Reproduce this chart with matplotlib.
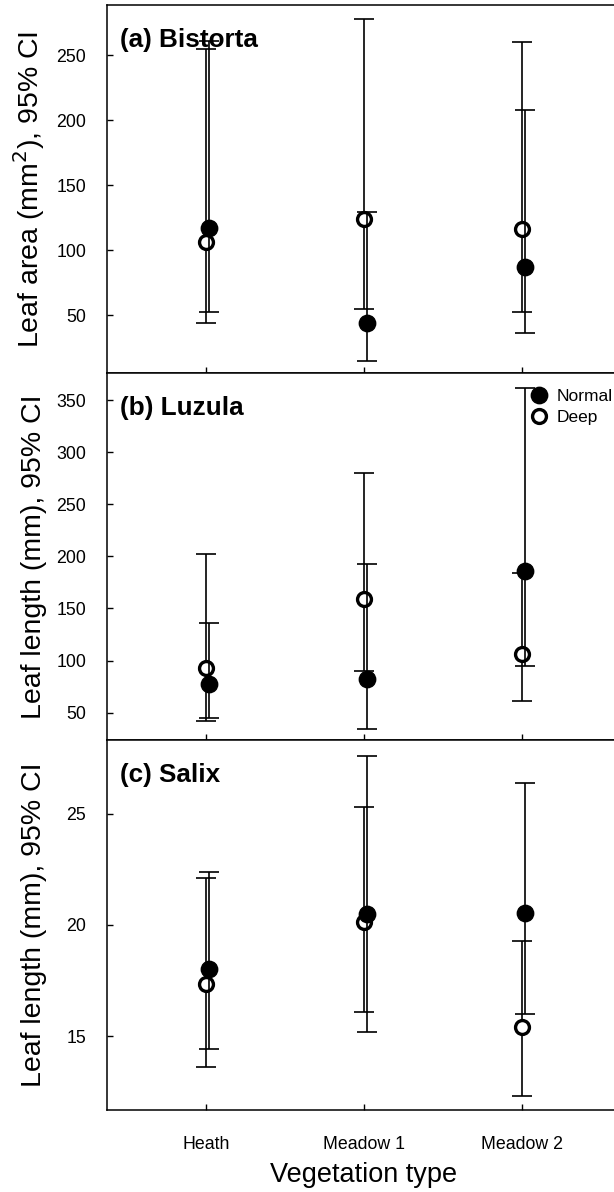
import matplotlib
matplotlib.use("Agg")
import matplotlib.pyplot as plt
from matplotlib.lines import Line2D
import numpy as np

plt.rcParams['font.family'] = ['Liberation Sans', 'DejaVu Sans']

categories = ["Heath", "Meadow 1", "Meadow 2"]

# Panel (a) Bistorta - leaf area (mm^2)
a_normal = [117, 44, 87]
a_normal_lo = [52, 15, 36]
a_normal_hi = [261, 129, 208]
a_deep = [106, 124, 116]
a_deep_lo = [44, 55, 52]
a_deep_hi = [255, 278, 260]

# Panel (b) Luzula - leaf length (mm)
b_normal = [78, 82, 186]
b_normal_lo = [45, 34, 95]
b_normal_hi = [136, 193, 362]
b_deep = [93, 159, 106]
b_deep_lo = [42, 90, 61]
b_deep_hi = [202, 280, 184]

# Panel (c) Salix - leaf length (mm)
c_normal = [18.0, 20.5, 20.55]
c_normal_lo = [14.4, 15.2, 16.0]
c_normal_hi = [22.4, 27.6, 26.4]
c_deep = [17.35, 20.15, 15.4]
c_deep_lo = [13.6, 16.1, 12.3]
c_deep_hi = [22.1, 25.3, 19.3]

panels = [
    ("(a) Bistorta", "Leaf area (mm$^2$), 95% CI", (a_normal, a_normal_lo, a_normal_hi), (a_deep, a_deep_lo, a_deep_hi), (5.4, 288.5), [50, 100, 150, 200, 250]),
    ("(b) Luzula", "Leaf length (mm), 95% CI", (b_normal, b_normal_lo, b_normal_hi), (b_deep, b_deep_lo, b_deep_hi), (23.8, 376), [50, 100, 150, 200, 250, 300, 350]),
    ("(c) Salix", "Leaf length (mm), 95% CI", (c_normal, c_normal_lo, c_normal_hi), (c_deep, c_deep_lo, c_deep_hi), (11.67, 28.33), [15, 20, 25]),
]

W, H = 614, 1192
fig = plt.figure(figsize=(W / 100, H / 100), dpi=100)

left_px = 107
right_px = 621
bounds_px = [(5, 373), (373, 740), (740, 1110)]

x = np.arange(1, len(categories) + 1)
off_normal = 0.018
off_deep = 0.0

deep_style = dict(marker='o', linestyle='none', markersize=10, markerfacecolor='white',
                  markeredgecolor='black', markeredgewidth=2.4)
normal_style = dict(marker='o', linestyle='none', markersize=11.8, markerfacecolor='black',
                    markeredgecolor='black', markeredgewidth=1)

for i, (label, ylabel, nrm, dp, ylim, yt) in enumerate(panels):
    top, bot = bounds_px[i]
    ax = fig.add_axes([left_px / W, 1 - bot / H, (right_px - left_px) / W, (bot - top) / H])

    dv, dlo, dhi = [np.array(v, dtype=float) for v in dp]
    nv, nlo, nhi = [np.array(v, dtype=float) for v in nrm]

    ax.errorbar(x + off_deep, dv, yerr=[dv - dlo, dhi - dv], fmt='none',
                ecolor='black', elinewidth=1.2, capsize=7, capthick=1.2, zorder=2)
    ax.plot(x + off_deep, dv, zorder=2.5, **deep_style)
    ax.errorbar(x + off_normal, nv, yerr=[nv - nlo, nhi - nv], fmt='none',
                ecolor='black', elinewidth=1.2, capsize=7, capthick=1.2, zorder=3)
    ax.plot(x + off_normal, nv, zorder=3.5, **normal_style)

    ax.set_xlim(0.373, 3.627)
    ax.set_ylim(*ylim)
    ax.set_yticks(yt)
    ax.set_xticks(x)
    ax.tick_params(axis='both', direction='in', length=4, width=1, labelsize=12.8)
    ax.tick_params(axis='y', pad=15)
    ax.tick_params(axis='x', pad=19)
    if i < 2:
        ax.set_xticklabels([])
    else:
        ax.set_xticklabels(categories)
        ax.set_xlabel("Vegetation type", fontsize=19.5, labelpad=6)

    ax.set_ylabel(ylabel, fontsize=20.5)
    ax.yaxis.set_label_coords(-0.117, 0.5)
    for s in ax.spines.values():
        s.set_linewidth(1.1)

    ax.text(0.025, 0.905, label, transform=ax.transAxes, fontsize=18.8,
            fontweight='bold', ha='left', va='center')

    if i == 1:
        handles = [Line2D([], [], **normal_style), Line2D([], [], **deep_style)]
        ax.legend(handles, ["Normal", "Deep"], loc='upper left',
                  bbox_to_anchor=(0.8236, 0.957), frameon=False,
                  borderpad=0, borderaxespad=0, handlelength=1.0,
                  handletextpad=0.5, labelspacing=0.35, fontsize=12.5)

fig.savefig("out.png", dpi=100)
